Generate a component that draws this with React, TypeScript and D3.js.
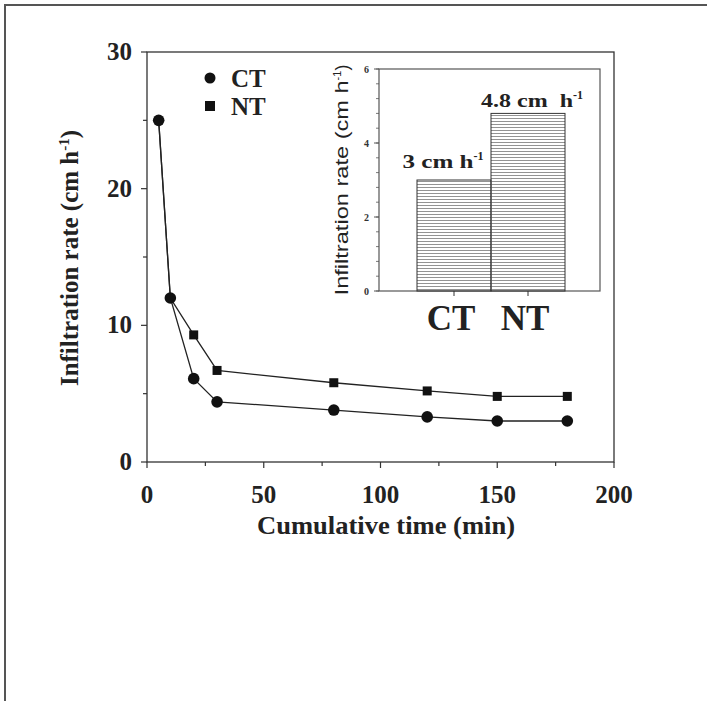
import React from "react";
import * as d3 from "d3";

const times = [5, 10, 20, 30, 80, 120, 150, 180];
const ctRate = [25, 12, 6.1, 4.4, 3.8, 3.3, 3.0, 3.0];
const ntRate = [25, 12, 9.3, 6.7, 5.8, 5.2, 4.8, 4.8];
const xTicks = [0, 50, 100, 150, 200];
const yTicks = [0, 10, 20, 30];

const insetCats = ["CT", "NT"];
const insetVals = [3, 4.8];
const insetLabels = ["3 cm h", "4.8 cm\u00a0 h"];
const insetTicks = [0, 2, 4, 6];

const serif = "'Liberation Serif', 'Times New Roman', serif";
const sans = "'Liberation Sans', Arial, sans-serif";

const App = () => {
    // main panel
    const x = d3.scaleLinear().domain([0, 200]).range([147, 614]);
    const y = d3.scaleLinear().domain([0, 30]).range([462, 52]);
    const line = d3.line<number>()
        .x((d, i) => x(times[i]))
        .y((d) => y(d));

    // inset panel
    const ix = d3.scaleBand().domain(insetCats).range([417, 565]).padding(0);
    const iy = d3.scaleLinear().domain([0, 6]).range([291, 69]);
    const insetMinor = d3.range(0, 6.01, 0.4);
    const labelPos = [{ x: 443, w: 83, dy: 12 }, { x: 532, w: 104, dy: 6 }];

    return (
        <svg width={707} height={701} style={{ position: "absolute", left: 0, top: 0, background: "#fff" }}>
            <defs>
                <pattern id="hatch" width={6} height={3} patternUnits="userSpaceOnUse">
                    <line x1={0} y1={1.5} x2={6} y2={1.5} stroke="#777" strokeWidth={0.8} />
                </pattern>
            </defs>
            {/* page frame */}
            <line x1={4} y1={5} x2={707} y2={5} stroke="#555" strokeWidth={2} />
            <line x1={5} y1={4} x2={5} y2={701} stroke="#555" strokeWidth={2} />

            {/* main plot box */}
            <rect x={x(0)} y={y(30)} width={x(200) - x(0)} height={y(0) - y(30)}
                  fill="none" stroke="#333" strokeWidth={1.3} />
            {d3.range(0, 201, 25).map((t) => (
                <line key={"xt" + t} x1={x(t)} x2={x(t)} y1={y(0)} y2={y(0) + (t % 50 === 0 ? 6 : 4)}
                      stroke="#333" strokeWidth={1.2} />
            ))}
            {xTicks.map((t) => (
                <text key={"xl" + t} x={x(t)} y={503} textAnchor="middle"
                      fontFamily={serif} fontWeight="bold" fontSize={25} fill="#222">{t}</text>
            ))}
            {d3.range(0, 31, 5).map((t) => (
                <line key={"yt" + t} x1={x(0)} x2={x(0) - (t % 10 === 0 ? 6 : 4)} y1={y(t)} y2={y(t)}
                      stroke="#333" strokeWidth={1.2} />
            ))}
            {yTicks.map((t) => (
                <text key={"yl" + t} x={132} y={y(t) + 8} textAnchor="end"
                      fontFamily={serif} fontWeight="bold" fontSize={25} fill="#222">{t}</text>
            ))}
            <text x={386} y={534} textAnchor="middle" fontFamily={serif} fontWeight="bold"
                  fontSize={25} fill="#222" textLength={258} lengthAdjust="spacingAndGlyphs">Cumulative time (min)</text>
            <text transform="translate(78,258) rotate(-90)" textAnchor="middle" fontFamily={serif}
                  fontWeight="bold" fontSize={25} fill="#222">
                Infiltration rate (cm h<tspan dy={-9} fontSize={15}>-1</tspan><tspan dy={9}>)</tspan>
            </text>

            {/* series */}
            <path d={line(ntRate) || ""} fill="none" stroke="#222" strokeWidth={1.3} />
            <path d={line(ctRate) || ""} fill="none" stroke="#222" strokeWidth={1.3} />
            {ntRate.map((v, i) => i > 1 ? (
                <rect key={"nt" + i} x={x(times[i]) - 4.5} y={y(v) - 4.5} width={9} height={9} fill="#111" />
            ) : null)}
            {ctRate.map((v, i) => (
                <circle key={"ct" + i} cx={x(times[i])} cy={y(v)} r={5.8} fill="#111" />
            ))}

            {/* legend */}
            <circle cx={210} cy={78} r={5.5} fill="#111" />
            <text x={231} y={87} fontFamily={serif} fontWeight="bold" fontSize={25} fill="#222">CT</text>
            <rect x={205} y={101} width={10} height={10} fill="#111" />
            <text x={231} y={115} fontFamily={serif} fontWeight="bold" fontSize={25} fill="#222">NT</text>

            {/* inset */}
            <rect x={379} y={iy(6)} width={600 - 379} height={iy(0) - iy(6)}
                  fill="#fff" stroke="#555" strokeWidth={1.2} />
            {insetCats.map((c, i) => (
                <g key={c}>
                    <rect x={ix(c)} y={iy(insetVals[i])} width={ix.bandwidth()} height={iy(0) - iy(insetVals[i])}
                          fill="url(#hatch)" stroke="#333" strokeWidth={1} />
                    <line x1={(ix(c) || 0) + ix.bandwidth() / 2} x2={(ix(c) || 0) + ix.bandwidth() / 2}
                          y1={iy(0)} y2={iy(0) + 5} stroke="#333" strokeWidth={1} />
                    <text x={(ix(c) || 0) + ix.bandwidth() / 2 - 3} y={330} textAnchor="middle"
                          fontFamily={serif} fontWeight="bold" fontSize={35} fill="#222">{c}</text>
                    <text x={labelPos[i].x} y={iy(insetVals[i]) - labelPos[i].dy}
                          textAnchor="middle" fontFamily={serif} fontWeight="bold" fontSize={19} fill="#222">
                        <tspan textLength={labelPos[i].w - 12} lengthAdjust="spacingAndGlyphs">{insetLabels[i]}</tspan>
                        <tspan dy={-8} fontSize={12}>-1</tspan>
                    </text>
                </g>
            ))}
            {insetMinor.map((t) => (
                <line key={"it" + t} x1={379} x2={376} y1={iy(t)} y2={iy(t)} stroke="#555" strokeWidth={0.8} />
            ))}
            {insetTicks.map((t) => (
                <g key={"il" + t}>
                    <line x1={379} x2={374} y1={iy(t)} y2={iy(t)} stroke="#555" strokeWidth={1} />
                    <text x={369} y={iy(t) + 3.5} textAnchor="end" fontFamily={serif} fontWeight="bold"
                          fontSize={10} fill="#333">{t}</text>
                </g>
            ))}
            <text transform="translate(348,180) rotate(-90)" textAnchor="middle" fontFamily={sans}
                  fontSize={18} fill="#222">
                <tspan textLength={215} lengthAdjust="spacingAndGlyphs">Infiltration rate (cm h</tspan>
                <tspan dy={-7} fontSize={11}>-1</tspan><tspan dy={7}>)</tspan>
            </text>
        </svg>
    );
};

export default App;
